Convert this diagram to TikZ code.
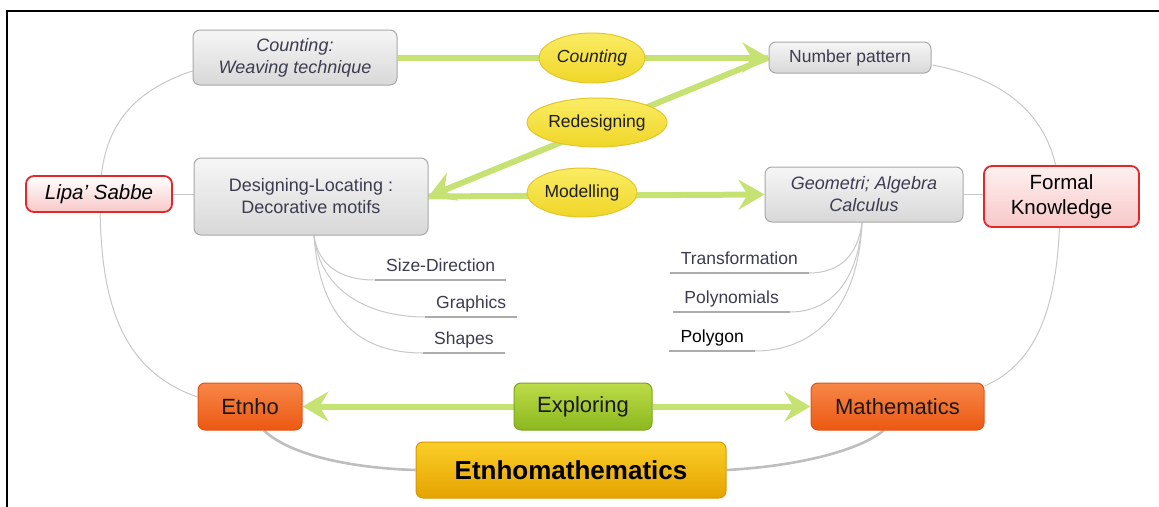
\documentclass[tikz,border=0pt]{standalone}
\usepackage{fontspec}
\setmainfont{Liberation Sans}
\usetikzlibrary{arrows.meta,shapes.geometric,calc}
\pgfdeclarelayer{bg}
\pgfsetlayers{bg,main}
\definecolor{arrowgreen}{RGB}{198,226,115}
\definecolor{darktext}{RGB}{60,60,80}
\definecolor{graytop}{RGB}{246,246,246}
\definecolor{graybot}{RGB}{216,216,216}
\definecolor{grayborder}{RGB}{168,168,168}
\definecolor{yeltop}{RGB}{250,236,100}
\definecolor{yelbot}{RGB}{240,214,40}
\definecolor{yelborder}{RGB}{226,198,45}
\definecolor{redborder}{RGB}{226,40,40}
\definecolor{pinktop}{RGB}{254,240,240}
\definecolor{pinkbot}{RGB}{248,200,200}
\definecolor{orgtop}{RGB}{247,135,72}
\definecolor{orgbot}{RGB}{236,88,18}
\definecolor{orgborder}{RGB}{222,84,22}
\definecolor{grntop}{RGB}{188,220,72}
\definecolor{grnbot}{RGB}{140,184,30}
\definecolor{grnborder}{RGB}{125,165,32}
\definecolor{goldtop}{RGB}{251,206,40}
\definecolor{goldbot}{RGB}{229,163,0}
\definecolor{goldborder}{RGB}{214,152,0}
\definecolor{linkgray}{RGB}{200,200,200}
\definecolor{ulgray}{RGB}{172,172,172}
\newcommand\myfs[2]{\fontsize{#1}{#2}\selectfont}
\tikzset{
  graybox/.style={draw=grayborder, line width=1pt, top color=graytop, bottom color=graybot,
    rounded corners=7pt, text=darktext, align=center, inner sep=0pt, font=\myfs{18}{22}},
  yell/.style={ellipse, draw=yelborder, line width=1pt, top color=yeltop, bottom color=yelbot,
    inner sep=0pt, text=black!88, font=\myfs{17.5}{21}},
  redbox/.style={draw=redborder, line width=1.8pt, top color=white, bottom color=pinkbot,
    rounded corners=8pt, text=black, align=center, inner sep=0pt, font=\myfs{20.5}{25}},
  orgbox/.style={draw=orgborder, line width=1pt, top color=orgtop, bottom color=orgbot,
    rounded corners=7pt, text=black!90, inner sep=0pt, font=\myfs{22}{26}},
  grnbox/.style={draw=grnborder, line width=1pt, top color=grntop, bottom color=grnbot,
    rounded corners=7pt, text=black!90, inner sep=0pt, font=\myfs{22}{26}},
  goldbox/.style={draw=goldborder, line width=1pt, top color=goldtop, bottom color=goldbot,
    rounded corners=7pt, text=black, inner sep=0pt, font=\myfs{26}{30}\bfseries},
  lab/.style={font=\myfs{17.5}{21}, text=darktext, text height=13pt, text depth=4.5pt,
    inner ysep=4pt, inner xsep=11pt},
  garrow/.style={draw=arrowgreen, line width=6pt,
    -{Stealth[length=26pt,width=30pt,inset=9pt]}},
  gline/.style={draw=arrowgreen, line width=6pt},
  link/.style={draw=linkgray, line width=1pt},
  thicklink/.style={draw=linkgray!95!black, line width=2.6pt},
  uline/.style={draw=ulgray, line width=1.3pt}
}
\begin{document}
\begin{tikzpicture}[x=1pt,y=-1pt]
\useasboundingbox (0,0) rectangle (1159,506);
\draw[line width=2.6pt, black] (7,510) -- (7,11) -- (1162,11);

% main nodes
\node[graybox, minimum width=204pt, minimum height=55pt, font=\myfs{18}{22}\itshape] (cw) at (295,57.5) {Counting:\\Weaving technique};
\node[graybox, minimum width=162pt, minimum height=31pt, font=\myfs{17.5}{21}] (np) at (850,57.5) {Number pattern};
\node[graybox, minimum width=234pt, minimum height=77pt] (dl) at (311,196.5) {Designing-Locating :\\Decorative motifs};
\node[graybox, minimum width=198pt, minimum height=55pt, font=\myfs{18}{22}\itshape] (geo) at (864,194.5) {Geometri; Algebra\\Calculus};
\node[redbox, minimum width=146pt, minimum height=36pt, font=\myfs{20.5}{25}\itshape] (lipa) at (99,194) {Lipa' Sabbe};
\node[redbox, top color=pinktop, minimum width=155pt, minimum height=61pt] (fk) at (1061.5,196.5) {Formal\\Knowledge};
\node[orgbox, minimum width=104pt, minimum height=47pt] (etnho) at (250,406.5) {Etnho};
\node[grnbox, minimum width=138pt, minimum height=47pt] (expl) at (583,406.5) {Exploring};
\node[orgbox, minimum width=173pt, minimum height=47pt] (math) at (897.5,406.5) {Mathematics};
\node[goldbox, minimum width=310pt, minimum height=56pt] (em) at (571,470) {Etnhomathematics};

% ellipses
\node[yell, minimum width=106pt, minimum height=50pt, font=\myfs{17.5}{21}\itshape] (ec) at (592,58) {Counting};
\node[yell, minimum width=140pt, minimum height=49pt] (er) at (597,122.5) {Redesigning};
\node[yell, minimum width=110pt, minimum height=49pt] (emod) at (582,192.5) {Modelling};

% sub labels
\node[lab, anchor=south west] (sd) at (375,280) {Size-Direction};
\node[lab, anchor=south west] (gr) at (425,317) {Graphics};
\node[lab, anchor=south west] (sh) at (423,353) {Shapes};
\node[lab, anchor=south east] (tr) at (809,273) {Transformation};
\node[lab, anchor=south east] (pn) at (790,312) {Polynomials};
\node[lab, anchor=south east, text=black] (pg) at (755,351) {Polygon};

\begin{pgfonlayer}{bg}
  % green flows
  \draw[garrow] (cw.east) -- (np.west);
  \draw[garrow] (np.west) -- (dl.east);
  \draw[garrow] (dl.east) -- (geo.west);
  \draw[garrow] (expl.west) -- (etnho.east);
  \draw[garrow] (expl.east) -- (math.west);
  % big gray loops
  \draw[link] ($(cw.west)+(0,13.5)$) .. controls (120,95) and (100,140) .. (100,200)
      .. controls (100,300) and (120,370) .. ($(etnho.west)+(0,-9.5)$);
  \draw[link] ($(np.east)+(1,7.5)$) .. controls (1010,80) and (1058,120) .. (1060,200)
      .. controls (1060,300) and (1040,362) .. ($(math.east)+(0,-20.5)$);
  \draw[link] (lipa.east) -- (lipa.east -| dl.west);
  \draw[link] (geo.east) -- (geo.east -| fk.west);
  % etnhomathematics links
  \draw[thicklink] (em.west) .. controls (350,468) and (290,455) .. ($(etnho.south)+(14,0)$);
  \draw[thicklink] (em.east) .. controls (800,466) and (860,450) .. ($(math.south)+(-14,0)$);
  % designing branches
  \draw[link] ($(dl.south)+(3,0)$) .. controls (318,265) and (340,280) .. (sd.south west);
  \draw[link] ($(dl.south)+(3,0)$) .. controls (320,292) and (370,317) .. (gr.south west);
  \draw[link] ($(dl.south)+(3,0)$) .. controls (320,322) and (362,353) .. (sh.south west);
  \draw[uline] (sd.south west) -- (sd.south east);
  \draw[uline] (gr.south west) -- (gr.south east);
  \draw[uline] (sh.south west) -- (sh.south east);
  % geometri branches
  \draw[link] ($(geo.south)+(-2,0)$) .. controls (858,255) and (840,273) .. (tr.south east);
  \draw[link] ($(geo.south)+(-2,0)$) .. controls (858,282) and (830,312) .. (pn.south east);
  \draw[link] ($(geo.south)+(-2,0)$) .. controls (858,312) and (812,351) .. (pg.south east);
  \draw[uline] (tr.south west) -- (tr.south east);
  \draw[uline] (pn.south west) -- (pn.south east);
  \draw[uline] (pg.south west) -- (pg.south east);
\end{pgfonlayer}
\end{tikzpicture}
\end{document}
